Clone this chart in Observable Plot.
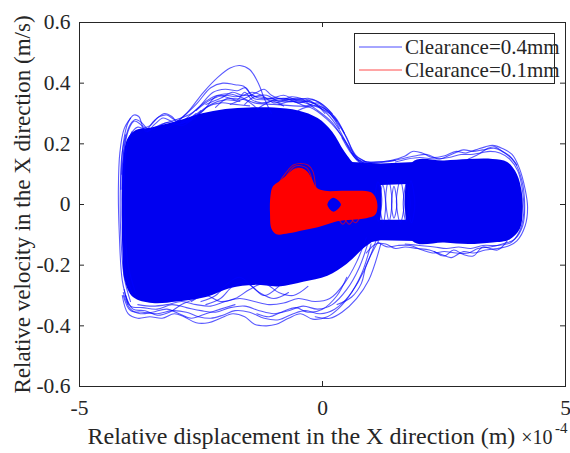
<!DOCTYPE html>
<html>
<head>
<meta charset="utf-8">
<script src="https://cdn.jsdelivr.net/npm/d3@7"></script>
<script src="https://cdn.jsdelivr.net/npm/@observablehq/plot@0.6"></script>
<style>
  body { margin: 0; background: #fff; }
  #chart { width: 570px; height: 453px; }
</style>
</head>
<body>
<div id="chart"></div>
<script>
// Phase portrait: relative displacement (x, in 1e-4 m) vs relative velocity (y, m/s)

const xTicks = [-5, 0, 5];
const yTicks = [-0.6, -0.4, -0.2, 0, 0.2, 0.4, 0.6];
const seriesNames = ["Clearance=0.4mm", "Clearance=0.1mm"];
const xLabel = "Relative displacement in the X direction (m)";
const yLabel = "Relative velocity in the X direction (m/s)";
const xExponent = "-4";

// Clearance 0.4 mm — densely filled regions of the orbit (outline points)
const blueBody = [[-4.13,0.00],[-4.10,0.14],[-4.02,0.215],[-3.85,0.245],[-3.5,0.255],[-3.0,0.275],[-2.5,0.30],[-2.0,0.315],[-1.5,0.32],[-1.0,0.32],[-0.5,0.31],[-0.1,0.285],[0.2,0.24],[0.45,0.175],[0.7,0.13],[1.1,0.12],[1.12,-0.10],[0.8,-0.15],[0.5,-0.195],[0.1,-0.235],[-0.4,-0.255],[-0.9,-0.27],[-1.4,-0.265],[-1.9,-0.275],[-2.4,-0.305],[-3.0,-0.32],[-3.5,-0.325],[-3.9,-0.305],[-4.07,-0.25],[-4.12,-0.14]];
const blueBandTop = [[0.6,0.14],[1.2,0.135],[1.9,0.14],[1.9,0.068],[1.2,0.064],[0.7,0.07]];
const blueBandBottom = [[0.8,-0.05],[1.9,-0.05],[1.9,-0.12],[1.2,-0.118],[0.8,-0.13]];
const blueBlock = [[1.85,0.14],[2.5,0.145],[3.0,0.15],[3.5,0.15],[3.8,0.14],[4.0,0.10],[4.1,0.04],[4.12,-0.02],[4.06,-0.08],[3.85,-0.115],[3.5,-0.125],[3.0,-0.13],[2.5,-0.125],[1.85,-0.12]];

// Clearance 0.4 mm — individual trajectory strands along the edges
const blueTopCurves = [
  [[-3.2,0.25],[-2.8,0.30],[-2.45,0.37],[-2.15,0.42],[-1.9,0.45],[-1.7,0.458],[-1.5,0.445],[-1.32,0.40],[-1.2,0.35],[-1.05,0.30]],
  [[-3.0,0.27],[-2.6,0.33],[-2.3,0.385],[-2.05,0.40],[-1.8,0.395],[-1.62,0.39],[-1.48,0.365],[-1.3,0.35],[-0.9,0.35],[-0.5,0.345],[-0.1,0.33],[0.15,0.30],[0.35,0.25]],
  [[-2.9,0.27],[-2.55,0.32],[-2.25,0.37],[-2.0,0.38],[-1.75,0.375],[-1.58,0.385],[-1.42,0.35],[-1.1,0.345],[-0.7,0.34],[-0.35,0.335],[-0.1,0.31],[0.2,0.27],[0.45,0.21],[0.7,0.15],[1.0,0.13]],
  [[-2.8,0.27],[-2.45,0.31],[-2.2,0.355],[-1.95,0.365],[-1.7,0.355],[-1.4,0.335],[-1.0,0.33],[-0.6,0.325],[-0.25,0.32],[0.1,0.28],[0.33,0.24],[0.55,0.19],[0.8,0.13]],
  [[-4.15,0.05],[-4.1,0.2],[-4.0,0.27],[-3.88,0.295],[-3.78,0.29],[-3.68,0.255],[-3.55,0.26],[-3.4,0.285],[-3.25,0.30],[-3.1,0.29],[-2.95,0.265],[-2.75,0.28],[-2.5,0.31]],
  [[-4.12,0.05],[-4.07,0.19],[-3.98,0.25],[-3.87,0.275],[-3.75,0.265],[-3.62,0.24],[-3.45,0.265],[-3.28,0.285],[-3.12,0.275],[-2.9,0.26],[-2.6,0.29],[-2.3,0.33],[-2.0,0.345],[-1.7,0.34]],
  [[-4.1,0.05],[-4.05,0.17],[-3.95,0.23],[-3.8,0.255],[-3.6,0.245],[-3.4,0.255],[-3.2,0.27],[-3.0,0.265],[-2.7,0.28],[-2.4,0.32],[-2.1,0.335],[-1.8,0.33],[-1.5,0.325]],
  [[-1.3,0.32],[-1.0,0.345],[-0.75,0.35],[-0.5,0.335],[-0.3,0.34],[-0.05,0.32],[0.15,0.29],[0.35,0.245],[0.55,0.185],[0.75,0.14],[1.1,0.14],[1.5,0.145]],
  [[-0.9,0.33],[-0.6,0.34],[-0.35,0.325],[-0.1,0.335],[0.1,0.31],[0.3,0.27],[0.5,0.22],[0.65,0.165],[0.85,0.135]],
  [[-2.2,0.32],[-1.95,0.35],[-1.75,0.345],[-1.6,0.37],[-1.45,0.345],[-1.25,0.335],[-1.0,0.34],[-0.8,0.325]],
  [[-3.6,0.24],[-3.3,0.265],[-3.0,0.28],[-2.7,0.30],[-2.4,0.34],[-2.15,0.36],[-1.9,0.35],[-1.6,0.345],[-1.3,0.31]],
  [[-1.9,0.33],[-1.6,0.35],[-1.35,0.37],[-1.2,0.38],[-1.05,0.36],[-0.8,0.345],[-0.55,0.35],[-0.3,0.345],[-0.1,0.325],[0.05,0.30]],
  [[-0.5,0.31],[-0.2,0.325],[0.05,0.31],[0.25,0.285],[0.4,0.25],[0.55,0.2],[0.7,0.16],[0.9,0.14]],
  [[-2.6,0.31],[-2.3,0.345],[-2.0,0.36],[-1.8,0.355],[-1.55,0.36],[-1.3,0.355],[-1.05,0.35],[-0.8,0.36],[-0.55,0.345],[-0.3,0.35],[-0.1,0.34],[0.1,0.315],[0.3,0.275]],
  [[-2.4,0.33],[-2.1,0.35],[-1.85,0.37],[-1.65,0.36],[-1.45,0.37],[-1.25,0.36],[-1.0,0.335],[-0.7,0.345],[-0.4,0.34],[-0.2,0.345],[0.0,0.33],[0.2,0.30]],
  [[-1.6,0.33],[-1.4,0.355],[-1.15,0.36],[-0.9,0.34],[-0.65,0.355],[-0.45,0.35],[-0.25,0.33],[0.0,0.32],[0.25,0.29],[0.45,0.235]],
  [[-4.13,0.1],[-4.05,0.22],[-3.95,0.265],[-3.85,0.28],[-3.72,0.27],[-3.6,0.25],[-3.5,0.27],[-3.35,0.29],[-3.2,0.295],[-3.05,0.28],[-2.85,0.275],[-2.6,0.30]]
];
const blueLeftCurves = [
  [[-4.0,-0.33],[-4.12,-0.25],[-4.18,-0.1],[-4.2,0.05],[-4.17,0.17],[-4.08,0.25],[-3.95,0.285]],
  [[-3.95,-0.32],[-4.08,-0.24],[-4.15,-0.1],[-4.16,0.05],[-4.13,0.16],[-4.05,0.23]],
  [[-3.9,-0.3],[-4.05,-0.22],[-4.11,-0.08],[-4.12,0.06],[-4.08,0.18]],
  [[-3.85,-0.29],[-4.0,-0.2],[-4.07,-0.05],[-4.08,0.08],[-4.03,0.19],[-3.92,0.24]]
];
const blueBottomCurves = [
  [[1.1,-0.12],[0.85,-0.22],[0.6,-0.29],[0.35,-0.34],[0.1,-0.37],[-0.2,-0.378],[-0.45,-0.36],[-0.7,-0.375],[-0.95,-0.395],[-1.15,-0.40],[-1.4,-0.395],[-1.6,-0.37],[-1.85,-0.36],[-2.1,-0.375],[-2.35,-0.39],[-2.6,-0.39],[-2.85,-0.37],[-3.05,-0.36],[-3.3,-0.375],[-3.55,-0.37],[-3.8,-0.375],[-4.0,-0.36],[-4.12,-0.3]],
  [[1.0,-0.13],[0.8,-0.23],[0.55,-0.3],[0.25,-0.345],[-0.05,-0.36],[-0.35,-0.35],[-0.6,-0.36],[-0.9,-0.38],[-1.2,-0.375],[-1.5,-0.355],[-1.8,-0.35],[-2.05,-0.365],[-2.3,-0.375],[-2.55,-0.37],[-2.8,-0.355],[-3.1,-0.35],[-3.4,-0.36],[-3.7,-0.355],[-3.95,-0.35],[-4.1,-0.3]],
  [[0.95,-0.12],[0.75,-0.21],[0.5,-0.28],[0.2,-0.33],[-0.1,-0.345],[-0.4,-0.335],[-0.7,-0.35],[-1.0,-0.36],[-1.3,-0.35],[-1.6,-0.335],[-1.9,-0.34],[-2.2,-0.355],[-2.5,-0.35],[-2.8,-0.34],[-3.1,-0.33],[-3.4,-0.345],[-3.7,-0.34],[-3.95,-0.335],[-4.08,-0.28]],
  [[0.9,-0.11],[0.7,-0.19],[0.45,-0.26],[0.15,-0.31],[-0.15,-0.32],[-0.5,-0.31],[-0.8,-0.325],[-1.1,-0.33],[-1.4,-0.32],[-1.7,-0.31],[-2.0,-0.32],[-2.3,-0.335],[-2.6,-0.33],[-2.9,-0.32],[-3.2,-0.33],[-3.5,-0.335],[-3.8,-0.33]],
  [[-0.9,-0.27],[-1.2,-0.30],[-1.45,-0.27],[-1.7,-0.24],[-1.95,-0.26],[-2.2,-0.30],[-2.5,-0.32]],
  [[-0.7,-0.29],[-1.0,-0.31],[-1.3,-0.29],[-1.6,-0.255],[-1.85,-0.27],[-2.1,-0.31],[-2.4,-0.33]],
  [[-0.3,-0.27],[-0.6,-0.30],[-0.9,-0.29],[-1.2,-0.26],[-1.5,-0.28],[-1.8,-0.31],[-2.1,-0.32],[-2.4,-0.30],[-2.7,-0.32]],
  [[1.2,-0.13],[0.95,-0.25],[0.7,-0.31],[0.4,-0.355],[0.15,-0.375],[-0.15,-0.37]],
  [[1.15,-0.12],[0.9,-0.2],[0.8,-0.26],[0.6,-0.305],[0.3,-0.33]],
  [[0.5,-0.24],[0.3,-0.3],[0.0,-0.345],[-0.3,-0.355],[-0.55,-0.34],[-0.85,-0.355],[-1.1,-0.37],[-1.35,-0.36]],
  [[-1.8,-0.33],[-2.1,-0.345],[-2.4,-0.36],[-2.7,-0.375],[-2.95,-0.36],[-3.2,-0.345],[-3.5,-0.355],[-3.75,-0.36],[-3.95,-0.345],[-4.1,-0.29]],
  [[-2.6,-0.31],[-2.9,-0.33],[-3.15,-0.355],[-3.4,-0.365],[-3.65,-0.35],[-3.9,-0.345],[-4.05,-0.3]]
];
const blueTailCurves = [
  [[0.4,0.22],[0.7,0.15],[1.0,0.14],[1.4,0.145],[1.7,0.16],[1.85,0.175],[2.05,0.17],[2.25,0.155],[2.5,0.16],[2.75,0.175],[2.95,0.17],[3.15,0.18],[3.35,0.19],[3.5,0.195],[3.7,0.185],[3.9,0.165],[4.05,0.12],[4.17,0.05],[4.22,-0.01],[4.17,-0.07],[4.0,-0.12],[3.85,-0.135],[3.6,-0.145],[3.35,-0.15],[3.1,-0.16],[2.9,-0.155],[2.65,-0.175],[2.45,-0.165],[2.2,-0.15],[1.95,-0.145],[1.7,-0.14],[1.5,-0.145],[1.3,-0.13],[1.1,-0.13],[0.9,-0.16]],
  [[0.6,0.17],[0.9,0.14],[1.3,0.14],[1.6,0.15],[1.9,0.16],[2.15,0.165],[2.4,0.15],[2.65,0.165],[2.9,0.18],[3.1,0.175],[3.3,0.18],[3.55,0.185],[3.75,0.17],[3.95,0.14],[4.1,0.08],[4.16,0.0],[4.12,-0.07],[3.95,-0.115],[3.7,-0.13],[3.45,-0.14],[3.2,-0.145],[3.0,-0.16],[2.75,-0.16],[2.5,-0.155],[2.3,-0.16],[2.05,-0.15],[1.8,-0.135],[1.55,-0.135],[1.35,-0.14],[1.15,-0.125]],
  [[1.5,0.14],[1.75,0.15],[2.0,0.155],[2.3,0.15],[2.6,0.155],[2.85,0.165],[3.05,0.165],[3.25,0.17],[3.45,0.175],[3.65,0.17],[3.85,0.15],[4.02,0.11],[4.12,0.04],[4.14,-0.03],[4.05,-0.09],[3.88,-0.125],[3.6,-0.135],[3.3,-0.135],[3.05,-0.145],[2.8,-0.14],[2.55,-0.145],[2.3,-0.14],[2.0,-0.135],[1.7,-0.13]],
  [[3.0,0.15],[3.2,0.165],[3.4,0.185],[3.55,0.19],[3.7,0.175],[3.85,0.16],[4.0,0.13]],
  [[3.8,-0.12],[3.6,-0.15],[3.3,-0.14],[3.1,-0.17],[2.9,-0.165],[2.7,-0.15],[2.5,-0.17],[2.3,-0.155]]
];
// narrow loops crossing the gap between the two tail bands
const blueGapLoops = [
  [[1.08,0.01],[1.14,0.075],[1.22,0.02],[1.15,-0.055]],
  [[1.18,0.0],[1.24,0.065],[1.3,0.0],[1.25,-0.06]],
  [[1.3,0.02],[1.36,0.08],[1.43,0.01],[1.37,-0.055]],
  [[1.42,0.0],[1.47,0.06],[1.53,0.0],[1.47,-0.045]],
  [[1.52,0.01],[1.6,0.08],[1.68,0.0],[1.6,-0.06]],
  [[1.66,0.0],[1.73,0.07],[1.8,0.0],[1.72,-0.055]],
  [[1.76,0.01],[1.82,0.078],[1.9,0.0],[1.83,-0.06]]
];

// Clearance 0.1 mm
const redBody = [[-1.07,0.03],[-1.02,0.06],[-0.9,0.075],[-0.75,0.095],[-0.6,0.115],[-0.45,0.12],[-0.32,0.11],[-0.22,0.085],[-0.12,0.055],[0.05,0.045],[0.4,0.045],[0.75,0.045],[1.0,0.04],[1.1,0.02],[1.13,-0.01],[1.08,-0.035],[0.9,-0.045],[0.6,-0.05],[0.3,-0.055],[0.1,-0.065],[-0.1,-0.075],[-0.4,-0.085],[-0.7,-0.095],[-0.95,-0.098],[-1.05,-0.08],[-1.08,-0.03]];
const redHole = [[0.1,0.0],[0.22,0.022],[0.38,0.0],[0.22,-0.024]];
const redArches = [
  [[-1.0,0.03],[-0.9,0.07],[-0.75,0.105],[-0.6,0.13],[-0.45,0.135],[-0.3,0.13],[-0.2,0.11],[-0.15,0.07],[-0.12,0.02]],
  [[-0.95,0.02],[-0.85,0.06],[-0.72,0.10],[-0.58,0.125],[-0.45,0.128],[-0.32,0.12],[-0.24,0.095],[-0.2,0.05]],
  [[-0.85,0.03],[-0.72,0.08],[-0.6,0.115],[-0.48,0.12],[-0.38,0.11],[-0.3,0.08],[-0.27,0.04]],
  [[-0.7,0.04],[-0.6,0.09],[-0.52,0.11],[-0.42,0.105],[-0.35,0.07]]
];
const redLoops = [
  [[0.35,-0.05],[0.42,-0.035],[0.48,-0.05],[0.42,-0.065]],
  [[0.48,-0.05],[0.55,-0.033],[0.62,-0.05],[0.55,-0.065]],
  [[0.6,-0.045],[0.68,-0.03],[0.75,-0.045],[0.68,-0.06]],
  [[0.08,0.0],[0.2,0.028],[0.3,0.022],[0.42,0.0],[0.3,-0.028],[0.2,-0.025]]
];

const BLUE = "#0000f0";
const RED = "#ff0000";
const INK = "#262626";
const SERIF = '"Liberation Serif", "Times New Roman", serif';

// flatten a list of curves into rows, one z-group per curve
function rows(curves, tag) {
  return curves.flatMap((c, i) => c.map(([x, y]) => ({x, y, id: tag + i})));
}
const fillOpts = (color, curve) => ({x: "x", y: "y", z: "id", fill: color, stroke: "none", curve});
const strandOpts = (color, curve) => ({x: "x", y: "y", z: "id", stroke: color, strokeOpacity: 0.65, strokeWidth: 1.1, curve});

const fw = 570 - 79 - 5, fh = 453 - 22 - 67;

const plot = Plot.plot({
  width: 570,
  height: 453,
  marginLeft: 79,
  marginRight: 5,
  marginTop: 22,
  marginBottom: 67,
  x: {domain: [-5, 5]},
  y: {domain: [-0.6, 0.6]},
  style: {fontFamily: SERIF, fontSize: "21.5px", color: INK, background: "white"},
  marks: [
    Plot.line(rows([blueBody], "bb"), {...fillOpts(BLUE, "catmull-rom-closed"), clip: true}),
    Plot.line(rows([blueBandTop, blueBandBottom], "bt"), fillOpts(BLUE, "linear-closed")),
    Plot.line(rows([blueBlock], "bk"), fillOpts(BLUE, "catmull-rom-closed")),
    Plot.line(rows(blueTopCurves, "t"), strandOpts("#0000ff", "catmull-rom")),
    Plot.line(rows(blueLeftCurves, "l"), strandOpts("#0000ff", "catmull-rom")),
    Plot.line(rows(blueBottomCurves, "b"), strandOpts("#0000ff", "catmull-rom")),
    Plot.line(rows(blueTailCurves, "r"), strandOpts("#0000ff", "catmull-rom")),
    Plot.line(rows(blueGapLoops, "g"), strandOpts("#0000ff", "catmull-rom-closed")),
    Plot.line(rows([redBody], "rb"), fillOpts(RED, "catmull-rom-closed")),
    Plot.line(rows([redHole], "rh"), fillOpts(BLUE, "catmull-rom-closed")),
    Plot.line(rows(redArches, "ra"), strandOpts(RED, "catmull-rom")),
    Plot.line(rows(redLoops, "rl"), strandOpts(RED, "catmull-rom-closed")),
    // inward ticks on all four sides
    Plot.tickX(xTicks, {x: d => d, insetTop: fh - 5, stroke: INK}),
    Plot.tickX(xTicks, {x: d => d, insetBottom: fh - 5, stroke: INK}),
    Plot.tickY(yTicks, {y: d => d, insetRight: fw - 5, stroke: INK}),
    Plot.tickY(yTicks, {y: d => d, insetLeft: fw - 5, stroke: INK}),
    Plot.frame({stroke: INK, strokeWidth: 1}),
    Plot.axisX(xTicks, {tickSize: 0, tickPadding: 13, tickFormat: d => String(d), label: null}),
    Plot.axisY(yTicks, {tickSize: 0, tickPadding: 9, tickFormat: d => d === 0 ? "0" : d.toFixed(1), label: null}),
    Plot.text([yLabel], {frameAnchor: "left", rotate: -90, dx: -57, text: d => d, textAnchor: "middle", lineAnchor: "middle", fontSize: 23, fill: INK}),
    Plot.text([xLabel], {frameAnchor: "bottom-left", dx: 8, dy: 50, text: d => d, textAnchor: "start", lineAnchor: "middle", fontSize: 24, fill: INK}),
    Plot.text(["\u00d710"], {frameAnchor: "bottom-right", dx: -13, dy: 51, text: d => d, textAnchor: "end", lineAnchor: "middle", fontSize: 20, fill: INK}),
    Plot.text([xExponent], {frameAnchor: "bottom-right", dx: 2, dy: 42, text: d => d, textAnchor: "end", lineAnchor: "middle", fontSize: 15, fill: INK})
  ]
});

// legend box in the upper right corner of the axes
const svg = d3.select(plot);
const lg = svg.append("g").attr("font-family", SERIF).attr("font-size", 21).attr("text-anchor", "start");
lg.append("rect").attr("x", 354.5).attr("y", 33.5).attr("width", 200).attr("height", 50).attr("fill", "white").attr("stroke", INK);
[["#0000ff", seriesNames[0], 47], [RED, seriesNames[1], 70]].forEach(([c, t, yy]) => {
  lg.append("line").attr("x1", 359).attr("x2", 402).attr("y1", yy).attr("y2", yy).attr("stroke", c).attr("stroke-opacity", 0.7);
  lg.append("text").attr("x", 405).attr("y", yy).attr("dy", "0.32em").attr("fill", INK).text(t);
});

document.getElementById("chart").append(plot);
</script>
</body>
</html>
